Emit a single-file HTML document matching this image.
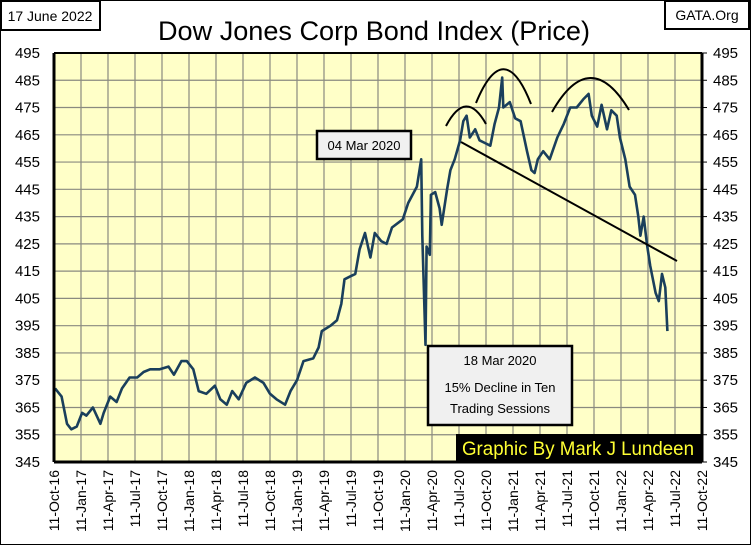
<!DOCTYPE html>
<html><head><meta charset="utf-8"><style>
body{margin:0;background:#fff;}
svg{display:block;font-family:"Liberation Sans",sans-serif;}
</style></head><body>
<svg id="c" width="751" height="545" viewBox="0 0 751 545">
<rect x="0.5" y="0.5" width="750" height="544" fill="#fff" stroke="#000"/>
<rect x="1" y="1" width="99" height="29" fill="#fff" stroke="#000" stroke-width="2"/>
<text x="50" y="21" font-size="14" text-anchor="middle">17 June 2022</text>
<rect x="665" y="1" width="84" height="28" fill="#fff" stroke="#000" stroke-width="2"/>
<text x="707" y="20" font-size="14" text-anchor="middle">GATA.Org</text>
<text x="374" y="40" font-size="27" text-anchor="middle" textLength="432" lengthAdjust="spacingAndGlyphs">Dow Jones Corp Bond Index (Price)</text>
<rect x="54" y="53" width="648" height="409" fill="#ffffc8"/>
<g id="grid"></g><g id="yl"></g><g id="xl"></g>
<polyline id="line" fill="none" stroke="#1a3f5c" stroke-width="2.6" stroke-linejoin="round"/>
<line x1="54" y1="53" x2="54" y2="462" stroke="#000" stroke-width="3"/>
<line x1="54" y1="462" x2="702" y2="462" stroke="#000" stroke-width="3"/>
<line x1="702" y1="53" x2="702" y2="462" stroke="#000" stroke-width="3"/>
<line x1="54" y1="53" x2="702" y2="53" stroke="#000" stroke-width="2"/>
<line x1="461" y1="142" x2="677" y2="261" stroke="#000" stroke-width="2"/>
<path d="M446,126 Q466,88 486,124" fill="none" stroke="#000" stroke-width="2"/>
<path d="M476,103 Q504,35 531,104" fill="none" stroke="#000" stroke-width="2"/>
<path d="M552,112 Q590,45 629,110" fill="none" stroke="#000" stroke-width="2"/>
<rect x="317" y="131" width="94" height="28" fill="#f0f0f0" stroke="#000" stroke-width="2.5"/>
<text x="364" y="150" font-size="13" text-anchor="middle">04 Mar 2020</text>
<rect x="428" y="346" width="144" height="79" fill="#f0f0f0" stroke="#000" stroke-width="2.5"/>
<text x="500" y="365" font-size="13" text-anchor="middle">18 Mar 2020</text>
<text x="500" y="392" font-size="13" text-anchor="middle">15% Decline in Ten</text>
<text x="500" y="413" font-size="13" text-anchor="middle">Trading Sessions</text>
<rect x="456" y="434" width="246" height="27" fill="#000"/>
<text x="578" y="455" font-size="19" fill="#ffff33" text-anchor="middle" textLength="232" lengthAdjust="spacingAndGlyphs">Graphic By Mark J Lundeen</text>
</svg>
<script>
const years=[2016.79,2016.85,2016.90,2016.94,2016.99,2017.04,2017.08,2017.14,2017.21,2017.24,2017.30,2017.36,2017.41,2017.48,2017.55,2017.61,2017.67,2017.76,2017.84,2017.89,2017.96,2018.01,2018.07,2018.12,2018.19,2018.27,2018.32,2018.38,2018.43,2018.49,2018.56,2018.64,2018.72,2018.78,2018.84,2018.92,2018.97,2019.03,2019.09,2019.18,2019.23,2019.26,2019.34,2019.40,2019.44,2019.47,2019.52,2019.57,2019.61,2019.66,2019.71,2019.75,2019.81,2019.86,2019.91,2020.01,2020.06,2020.14,2020.18,2020.19,2020.22,2020.23,2020.26,2020.27,2020.31,2020.35,2020.37,2020.42,2020.45,2020.49,2020.54,2020.57,2020.60,2020.63,2020.68,2020.72,2020.77,2020.82,2020.86,2020.90,2020.93,2020.94,2021.00,2021.05,2021.10,2021.16,2021.20,2021.23,2021.26,2021.31,2021.37,2021.44,2021.50,2021.56,2021.62,2021.68,2021.73,2021.76,2021.81,2021.85,2021.90,2021.94,2021.99,2022.02,2022.07,2022.11,2022.16,2022.19,2022.21,2022.24,2022.27,2022.30,2022.35,2022.38,2022.41,2022.44,2022.46];
const prices=[372,369,359,357,358,363,362,365,359,363,369,367,372,376,376,378,379,379,380,377,382,382,379,371,370,373,368,366,371,368,374,376,374,370,368,366,371,375,382,383,387,393,395,397,403,412,413,414,423,429,420,429,426,425,431,434,440,446,456,428,388,424,421,443,444,438,432,445,452,456,463,470,472,464,467,463,462,461,469,475,486,475,477,471,470,459,452,451,456,459,456,464,469,475,475,478,480,472,468,476,467,474,472,464,456,446,443,435,428,435,425,417,407,404,414,409,393];
const yTicks=[345,355,365,375,385,395,405,415,425,435,445,455,465,475,485,495];
const xTickLabels=["11-Oct-16","11-Jan-17","11-Apr-17","11-Jul-17","11-Oct-17","11-Jan-18","11-Apr-18","11-Jul-18","11-Oct-18","11-Jan-19","11-Apr-19","11-Jul-19","11-Oct-19","11-Jan-20","11-Apr-20","11-Jul-20","11-Oct-20","11-Jan-21","11-Apr-21","11-Jul-21","11-Oct-21","11-Jan-22","11-Apr-22","11-Jul-22","11-Oct-22"];
const NS="http://www.w3.org/2000/svg";
const X0=54,X1=702,Y0=53,Y1=462,T0=2016.78,T1=2022.78,V0=345,V1=495;
function sx(t){return X0+(t-T0)/(T1-T0)*(X1-X0);}
function sy(v){return Y1-(v-V0)/(V1-V0)*(Y1-Y0);}
const grid=document.getElementById('grid'),yl=document.getElementById('yl'),xl=document.getElementById('xl');
function mk(tag,attrs){const e=document.createElementNS(NS,tag);for(const k in attrs)e.setAttribute(k,attrs[k]);return e;}
yTicks.forEach(v=>{
  const y=sy(v);
  const g=mk('line',{x1:X0,x2:X1,y1:y,y2:y,stroke:'#8a8a80','stroke-width':1.2});
  
  
  grid.appendChild(g);
  const tk=mk('line',{x1:X1,x2:X1+5,y1:y,y2:y,stroke:'#000'});
  
  
  grid.appendChild(tk);
  const l=mk('text',{x:40,y:y+5,'font-size':15,'text-anchor':'end'});l.textContent=v;
  
  
  yl.appendChild(l);
  const r=mk('text',{x:713,y:y+5,'font-size':15});r.textContent=v;
  
  
  yl.appendChild(r);
});
xTickLabels.forEach((s,i)=>{
  const x=sx(T0+i*0.25);
  const g=mk('line',{x1:x,x2:x,y1:Y0,y2:Y1,stroke:'#8a8a80','stroke-width':1.2});
  
  
  grid.appendChild(g);
  const t=mk('text',{transform:`translate(${x+5},470) rotate(-90)`,'font-size':14,'text-anchor':'end'});t.textContent=s;
  
  
  xl.appendChild(t);
});
document.getElementById('line').setAttribute('points',years.map((t,i)=>sx(t).toFixed(1)+','+sy(prices[i]).toFixed(1)).join(' '));
</script>
</body></html>
